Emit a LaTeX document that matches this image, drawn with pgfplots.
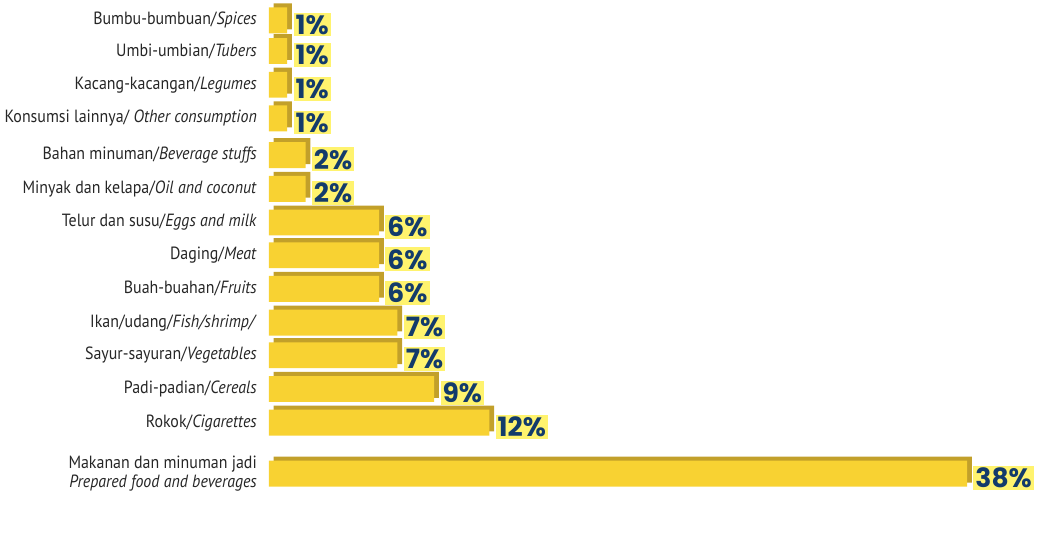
\documentclass[border=0pt]{standalone}
\usepackage{fontspec}
\setmainfont{PT Sans}[FakeStretch=0.9]
\newfontfamily\valfont{Poppins}
\usepackage{pgfplots}
\usepackage{pgfplotstable}
\pgfplotsset{compat=1.18}
\definecolor{barY}{HTML}{F8D232}
\definecolor{barD}{HTML}{C2A02A}
\definecolor{hl}{HTML}{FFF36E}
\definecolor{navy}{HTML}{133B6B}
\pgfplotstableread{
y v
20 1
50 1
83 1
116 1
152 2
185 2
218 6
250 6
283 6
316 7
348 7
381 9
414 12
464 38
}\datatable
\begin{document}
\begin{tikzpicture}
\begin{axis}[
  x=13.5pt, y=0.75pt, y dir=reverse,
  xmin=0, xmax=41.6, ymin=0, ymax=539,
  axis line style={draw=none}, tick style={draw=none},
  xtick=\empty, ytick=data,
  yticklabels={
    Bumbu-bumbuan/\textit{Spices},
    Umbi-umbian/\textit{Tubers},
    Kacang-kacangan/\textit{Legumes},
    Konsumsi lainnya/ \textit{Other consumption},
    Bahan minuman/\textit{Beverage stuffs},
    Minyak dan kelapa/\textit{Oil and coconut},
    Telur dan susu/\textit{Eggs and milk},
    Daging/\textit{Meat},
    Buah-buahan/\textit{Fruits},
    Ikan/udang/\textit{Fish/shrimp/},
    Sayur-sayuran/\textit{Vegetables},
    Padi-padian/\textit{Cereals},
    Rokok/\textit{Cigarettes},
    {Makanan dan minuman jadi\\\textit{Prepared food and beverages}}
  },
  yticklabel style={font=\fontsize{13}{14}\selectfont, align=right, text=black!85, xshift=-1pt},
  xbar, bar width=19pt,
  clip=false,
]
\addplot[draw=none, fill=barD, bar shift=0pt, xshift=3.5pt, yshift=3pt] table[x=v,y=y]{\datatable};
\addplot[draw=none, fill=barY, bar shift=0pt,
  nodes near coords={\pgfmathprintnumber[assume math mode=true]{\pgfplotspointmeta}\%},
  nodes near coords style={anchor=west, font=\valfont\bfseries\fontsize{19.5}{19.5}\selectfont,
    text=navy, fill=hl, inner sep=1.5pt, xshift=4.5pt, yshift=-3pt}
] table[x=v,y=y]{\datatable};
\end{axis}
\end{tikzpicture}
\end{document}
